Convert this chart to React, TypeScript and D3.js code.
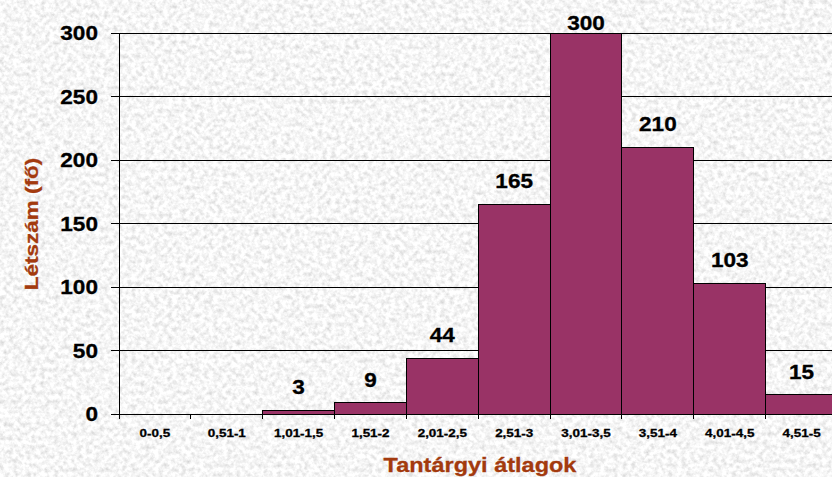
import { range, scaleBand, scaleLinear } from "d3";
import React from "react";

const categories = [
  "0-0,5",
  "0,51-1",
  "1,01-1,5",
  "1,51-2",
  "2,01-2,5",
  "2,51-3",
  "3,01-3,5",
  "3,51-4",
  "4,01-4,5",
  "4,51-5",
];
const counts = [0, 0, 3, 9, 44, 165, 300, 210, 103, 15];
const yTicks = [0, 50, 100, 150, 200, 250, 300];

const W = 832;
const H = 477;
const plot = { left: 119, right: 837.5, top: 33, bottom: 414 };

// the source font renders wider than Arial Bold, so text is stretched along its run
const Label: React.FC<{
  x: number;
  y: number;
  size: number;
  sx: number;
  anchor?: "start" | "middle" | "end";
  rotate?: number;
  fill?: string;
  children: React.ReactNode;
}> = ({ x, y, size, sx, anchor = "middle", rotate = 0, fill = "#000", children }) => (
  <text
    transform={`translate(${x},${y}) rotate(${rotate}) scale(${sx},1)`}
    textAnchor={anchor}
    fontSize={size}
    fontWeight="bold"
    fill={fill}
    stroke={fill}
    strokeWidth={0.3}
  >
    {children}
  </text>
);

const App: React.FC = () => {
  const x = scaleBand<string>()
    .domain(categories)
    .range([plot.left, plot.right])
    .padding(0);
  const y = scaleLinear().domain([0, 300]).range([plot.bottom, plot.top]);
  const bw = x.bandwidth();
  const edges = range(categories.length + 1).map((i) => plot.left + i * bw);

  return (
    <svg
      width={W}
      height={H}
      style={{ position: "fixed", left: 0, top: 0 }}
      fontFamily="Arial, 'Liberation Sans', sans-serif"
    >
      <defs>
        <filter id="marble" x="0" y="0" width="100%" height="100%">
          <feTurbulence
            type="fractalNoise"
            baseFrequency="0.22"
            numOctaves={3}
            seed={7}
            result="n"
          />
          <feColorMatrix
            in="n"
            type="matrix"
            values="0.6 0 0 0 0.62  0.6 0 0 0 0.62  0.6 0 0 0 0.62  0 0 0 0 1"
          />
        </filter>
      </defs>
      <rect width={W} height={H} fill="#ebebeb" />
      <rect width={W} height={H} filter="url(#marble)" />

      {/* gridlines + y ticks */}
      {yTicks.map((t) => (
        <g key={t}>
          <line
            x1={plot.left - 8}
            x2={W}
            y1={y(t)}
            y2={y(t)}
            stroke="#000"
            shapeRendering="crispEdges"
          />
          <Label x={98} y={y(t) + 7} size={20} sx={1.13} anchor="end">
            {t}
          </Label>
        </g>
      ))}

      {/* bars */}
      {categories.map((c, i) =>
        counts[i] > 0 ? (
          <rect
            key={c}
            x={x(c)}
            y={y(counts[i])}
            width={bw}
            height={y(0) - y(counts[i])}
            fill="#993366"
            stroke="#000"
            shapeRendering="crispEdges"
          />
        ) : null,
      )}

      {/* axes */}
      <g shapeRendering="crispEdges" stroke="#000">
        <line x1={plot.left} x2={plot.left} y1={plot.top} y2={plot.bottom} />
        <line x1={plot.left} x2={W} y1={plot.bottom} y2={plot.bottom} />
        {edges.map((e, i) => (
          <line key={i} x1={e} x2={e} y1={plot.bottom} y2={plot.bottom + 5} />
        ))}
      </g>

      {/* category labels */}
      {categories.map((c) => (
        <Label key={c} x={x(c)! + bw / 2} y={437} size={11.5} sx={1.17}>
          {c}
        </Label>
      ))}

      {/* value labels */}
      {categories.map((c, i) =>
        counts[i] > 0 ? (
          <Label
            key={c}
            x={x(c)! + bw / 2}
            y={Math.max(y(counts[i]) - 16, 30)}
            size={20}
            sx={1.13}
          >
            {counts[i]}
          </Label>
        ) : null,
      )}

      {/* axis titles */}
      <Label x={38} y={224} size={18} sx={1.25} rotate={-90} fill="#a33a0e">
        Létszám (fő)
      </Label>
      <Label x={480} y={472} size={21} sx={1.12} fill="#a33a0e">
        Tantárgyi átlagok
      </Label>
    </svg>
  );
};

export default App;
